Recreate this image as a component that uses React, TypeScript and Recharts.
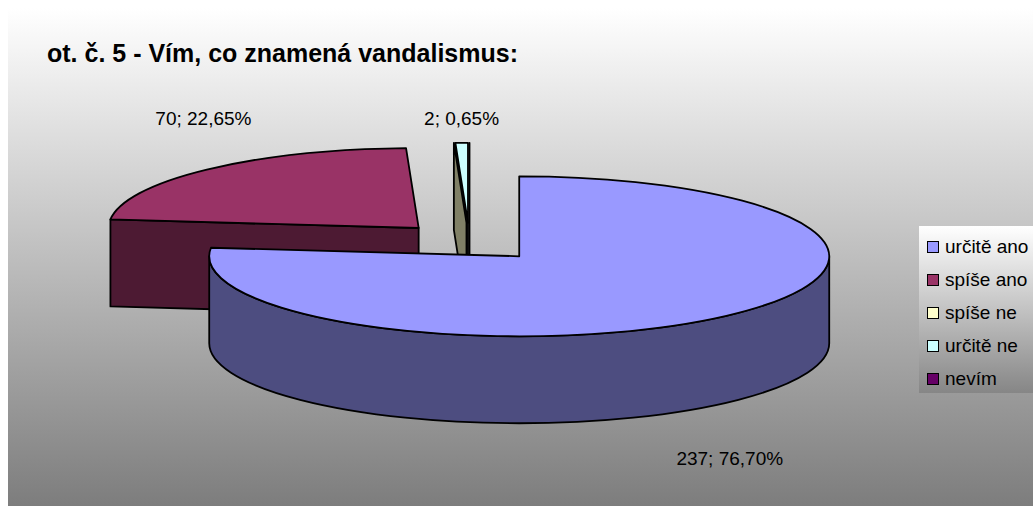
import React from 'react';
import { PieChart, Pie, Cell, Legend } from 'recharts';

// ---- data ----
const categories = ['určitě ano', 'spíše ano', 'spíše ne', 'určitě ne', 'nevím'];
const counts = [237, 70, 0, 2, 0];
const colors = ['#9999FF', '#993366', '#FFFFCC', '#CCFFFF', '#660066'];
const title = 'ot. č. 5 - Vím, co znamená vandalismus:';

const data = categories.map((name, i) => ({ name, value: counts[i] }));

// ---- layout / style ----
const W = 1025;
const H = 498;
const CX = 461.5;
const CY = 234;
const RX = 310;
const TILT = 80 / 310;
const DEPTH = 87;
const EXPLODE = 0.24;
const RAD = Math.PI / 180;
const FONT = '"Liberation Sans", Arial, Helvetica, sans-serif';
const STROKE = '#000000';
const SW = 1.8;
const LABEL_MIN_Y = 110;

function darken(hex: string, k = 0.5): string {
  const h = hex.replace('#', '');
  const r = Math.round(parseInt(h.slice(0, 2), 16) * k);
  const g = Math.round(parseInt(h.slice(2, 4), 16) * k);
  const b = Math.round(parseInt(h.slice(4, 6), 16) * k);
  return `rgb(${r},${g},${b})`;
}

function geom(p: any) {
  const rx = p.outerRadius;
  const ry = rx * TILT;
  const hi = Math.max(p.startAngle, p.endAngle);
  const lo = Math.min(p.startAngle, p.endAngle);
  const mid = (hi + lo) / 2;
  const m = mid * RAD;
  const ox = p.cx + EXPLODE * rx * Math.cos(m);
  const oy = p.cy - EXPLODE * ry * Math.sin(m);
  const pt = (a: number, d = 0) => [ox + rx * Math.cos(a * RAD), oy - ry * Math.sin(a * RAD) + d];
  return { rx, ry, hi, lo, mid, ox, oy, pt };
}

type Pass = 'backSides' | 'zeroFaces' | 'backTops' | 'front';

function makeShape(pass: Pass) {
  return (p: any) => {
    const { rx, ry, hi, lo, mid, ox, oy, pt } = geom(p);
    const fill = p.fill;
    const side = darken(fill, 0.5);
    const isZero = hi - lo < 1e-6;
    const isBack = Math.sin(mid * RAD) > 0;
    const f = (a: number[]) => `${a[0].toFixed(2)},${a[1].toFixed(2)}`;

    const facePath = (a: number) =>
      `M${ox.toFixed(2)},${oy.toFixed(2)} L${f(pt(a))} L${f(pt(a, DEPTH))} L${ox.toFixed(2)},${(oy + DEPTH).toFixed(2)} Z`;

    if (isZero) {
      if (pass !== 'zeroFaces') return <g />;
      if (Math.cos(hi * RAD) > 0.02) return <g />;
      return (
        <g>
          <path d={facePath(hi)} fill={side} stroke={STROKE} strokeWidth={SW} strokeLinejoin="round" />
        </g>
      );
    }

    const drawSides = pass === 'front' || pass === 'backSides';
    const drawTop = pass === 'front' || pass === 'backTops';
    if (pass === 'front' && isBack) return <g />;
    if ((pass === 'backSides' || pass === 'backTops') && !isBack) return <g />;
    if (pass === 'zeroFaces') return <g />;

    const els: any[] = [];
    if (drawSides) {
      if (Math.cos(hi * RAD) < 0) els.push(<path key="fs" d={facePath(hi)} fill={side} stroke={STROKE} strokeWidth={SW} strokeLinejoin="round" />);
      if (Math.cos(lo * RAD) > 0) els.push(<path key="fe" d={facePath(lo)} fill={side} stroke={STROKE} strokeWidth={SW} strokeLinejoin="round" />);
      for (let k = -2; k <= 1; k++) {
        const a1 = Math.min(hi, 360 * k);
        const a2 = Math.max(lo, -180 + 360 * k);
        if (a1 - a2 > 0.01) {
          const large = a1 - a2 > 180 ? 1 : 0;
          const d = `M${f(pt(a1))} A${rx},${ry} 0 ${large} 1 ${f(pt(a2))} L${f(pt(a2, DEPTH))} A${rx},${ry} 0 ${large} 0 ${f(pt(a1, DEPTH))} Z`;
          els.push(<path key={`s${k}`} d={d} fill={side} stroke={STROKE} strokeWidth={SW} strokeLinejoin="round" />);
        }
      }
    }
    if (drawTop) {
      const large = hi - lo > 180 ? 1 : 0;
      const d = `M${ox.toFixed(2)},${oy.toFixed(2)} L${f(pt(hi))} A${rx},${ry} 0 ${large} 1 ${f(pt(lo))} Z`;
      els.push(<path key="top" d={d} fill={fill} stroke={STROKE} strokeWidth={SW} strokeLinejoin="round" />);
    }
    return <g>{els}</g>;
  };
}

const renderLabel = (p: any) => {
  if (!p.value) return null;
  const { rx, ry, mid, ox, oy } = geom(p);
  const c = Math.cos(mid * RAD);
  const s = Math.sin(mid * RAD);
  const x = ox + (rx + 5) * c;
  let y = oy - (ry + 75) * s + (s < 0 ? DEPTH : 0);
  if (y < LABEL_MIN_Y) y = LABEL_MIN_Y;
  const pct = (p.percent * 100).toFixed(2).replace('.', ',');
  return (
    <text x={x} y={y} textAnchor="middle" dominantBaseline="central" fontFamily={FONT} fontSize={19} fill="#000">
      {`${p.value}; ${pct}%`}
    </text>
  );
};

const renderLegend = (props: any) => {
  const raw = (props.payload || []).filter((it: any) => it.type !== 'none');
  const seen = new Set<string>();
  const items: any[] = [];
  raw.forEach((it: any) => {
    if (!seen.has(it.value)) {
      seen.add(it.value);
      items.push(it);
    }
  });
  items.sort((a, b) => categories.indexOf(a.value) - categories.indexOf(b.value));
  return (
    <div
      style={{
        background: 'linear-gradient(to bottom, #ffffff 0%, #868686 100%)',
        paddingTop: 4,
        paddingLeft: 8,
        height: 163,
        width: 200,
        boxSizing: 'content-box',
      }}
    >
      {items.map((it: any, i: number) => (
        <div key={i} style={{ display: 'flex', alignItems: 'center', height: 33 }}>
          <span
            style={{
              display: 'inline-block',
              width: 12,
              height: 12,
              boxSizing: 'border-box',
              border: '1px solid #000',
              background: it.color,
              marginRight: 6,
            }}
          />
          <span style={{ fontFamily: FONT, fontSize: 19, color: '#000', lineHeight: '33px', whiteSpace: 'nowrap' }}>
            {it.value}
          </span>
        </div>
      ))}
    </div>
  );
};

const passes: Pass[] = ['backSides', 'zeroFaces', 'backTops', 'front'];

export default function App() {
  return (
    <div
      style={{
        position: 'absolute',
        left: 8,
        top: 8,
        width: W,
        height: H,
        overflow: 'hidden',
        background: 'linear-gradient(to bottom, #ffffff 0%, #7d7d7d 100%)',
      }}
    >
      <div
        style={{
          position: 'absolute',
          left: 39,
          top: 33,
          fontFamily: FONT,
          fontWeight: 'bold',
          fontSize: 25,
          lineHeight: '24px',
          color: '#000',
          whiteSpace: 'nowrap',
          zIndex: 2,
        }}
      >
        {title}
      </div>
      <PieChart width={W} height={H} margin={{ top: 0, right: 0, bottom: 0, left: 0 }}>
        {passes.map((pass, pi) => (
          <Pie
            key={pass}
            data={data}
            dataKey="value"
            nameKey="name"
            cx={CX}
            cy={CY}
            outerRadius={RX}
            startAngle={90}
            endAngle={-270}
            isAnimationActive={false}
            legendType={pi === 0 ? 'square' : 'none'}
            shape={makeShape(pass)}
            label={pass === 'front' ? renderLabel : false}
            labelLine={false}
            stroke="none"
          >
            {data.map((d, i) => (
              <Cell key={d.name} fill={colors[i]} />
            ))}
          </Pie>
        ))}
        <Legend
          layout="vertical"
          align="right"
          verticalAlign="top"
          itemSorter={null as any}
          content={renderLegend}
          wrapperStyle={{ left: 911, top: 218, right: 'auto', width: 200 }}
        />
      </PieChart>
    </div>
  );
}
